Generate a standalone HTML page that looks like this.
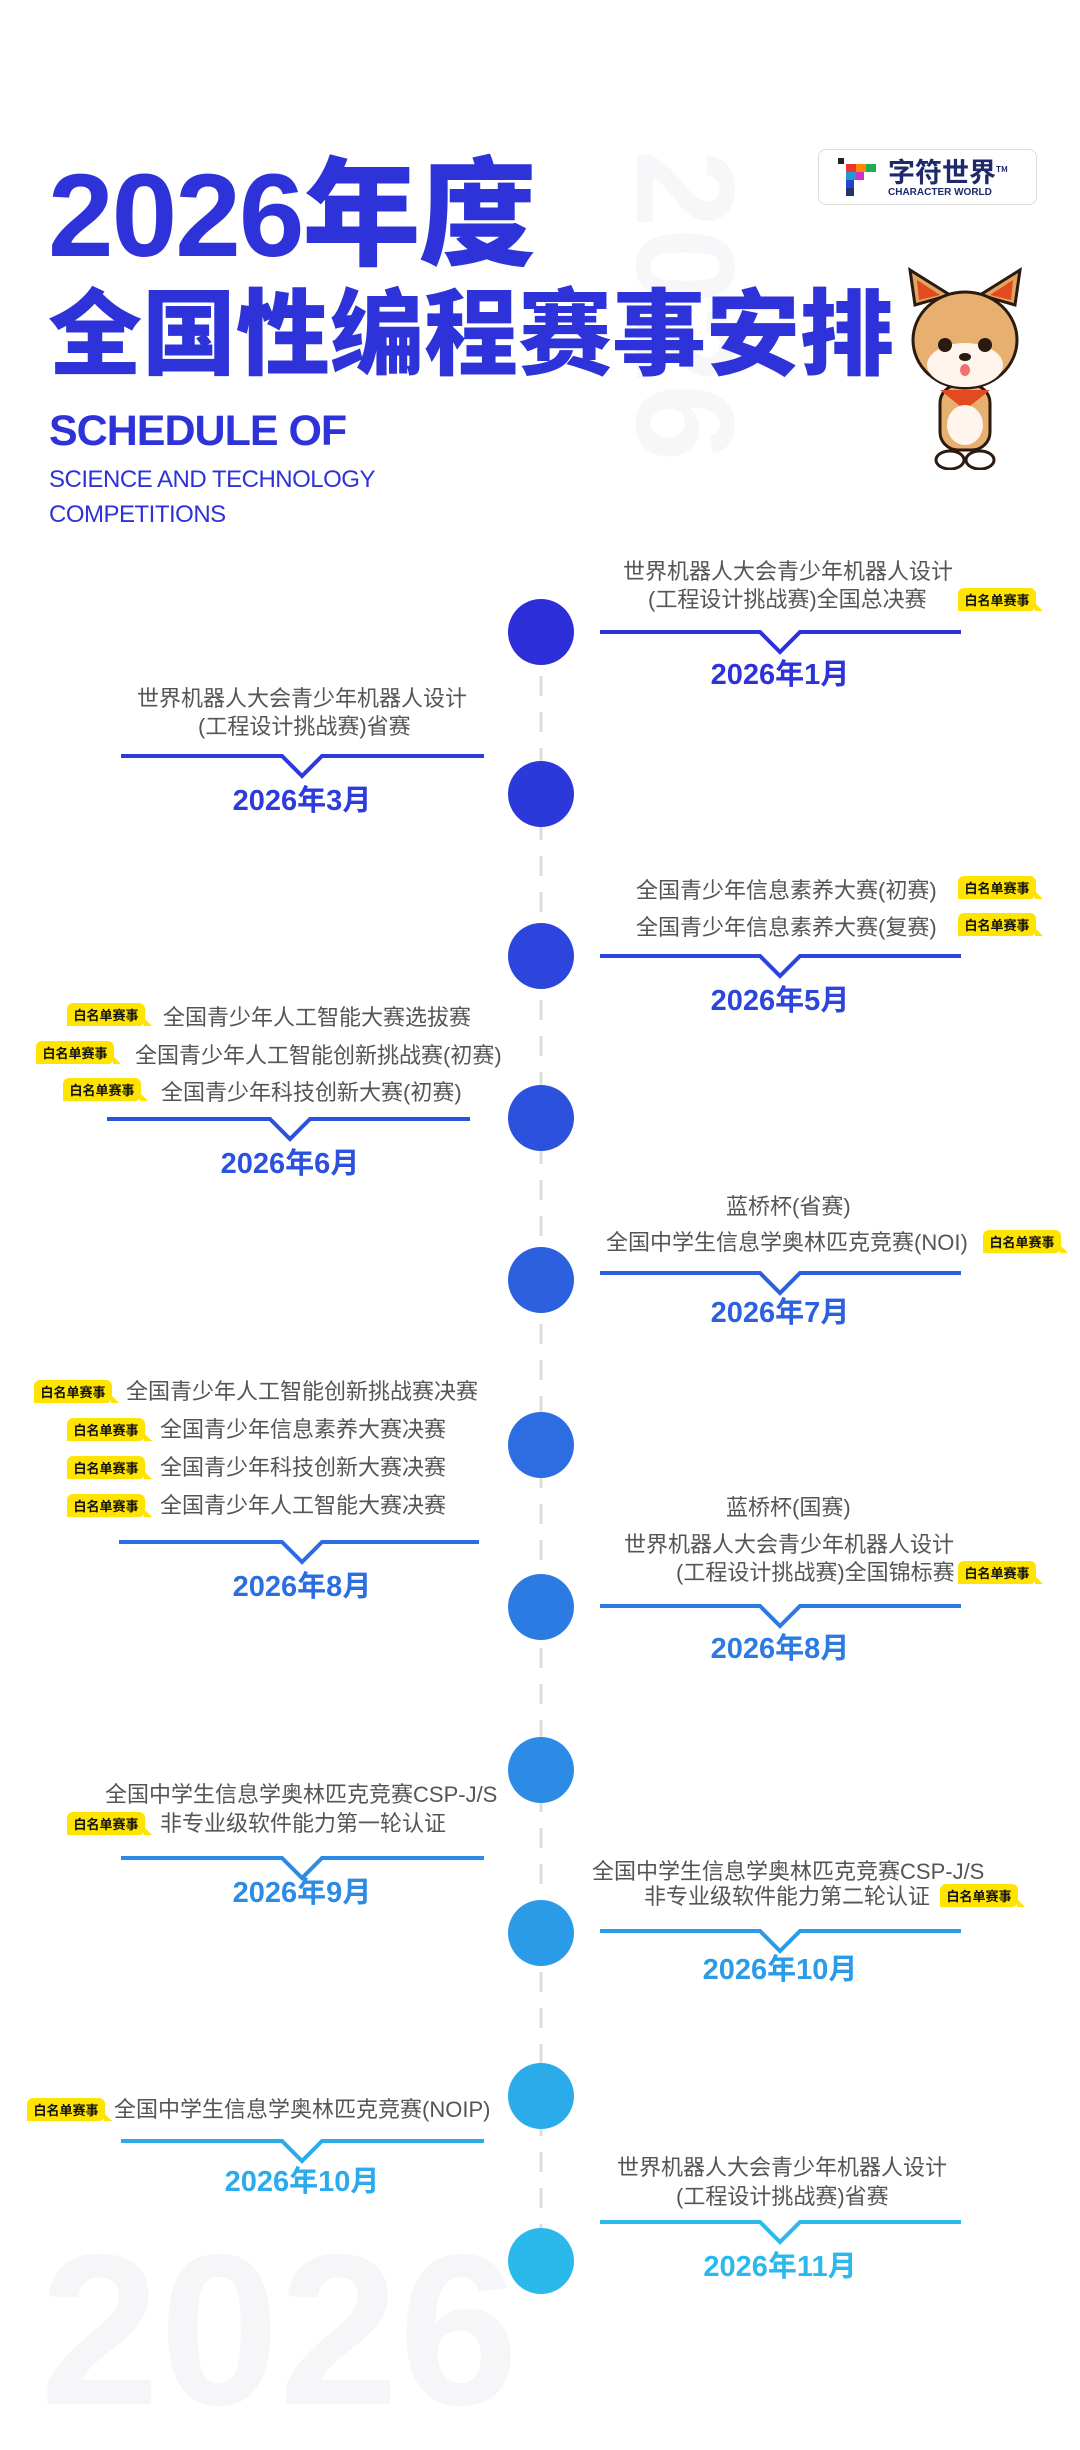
<!DOCTYPE html>
<html><head><meta charset="utf-8">
<style>
*{margin:0;padding:0;box-sizing:border-box}
body{width:1080px;height:2430px;background:#fff;position:relative;overflow:hidden;font-family:"Liberation Sans","Noto Sans CJK SC",sans-serif}
.a{position:absolute;white-space:nowrap}
.t{position:absolute;white-space:nowrap;font-size:22px;line-height:30px;height:30px;color:#555;}
.d{position:absolute;white-space:nowrap;font-size:29px;line-height:36px;font-weight:bold;text-align:center;width:300px}
.b{position:absolute;background:#ffe400;border-radius:6px 6px 6px 0;font-size:13px;font-weight:bold;color:#111;width:78px;height:23px;line-height:23px;text-align:center;font-family:"Noto Sans CJK SC",sans-serif}
.b:after{content:"";position:absolute;right:-7px;bottom:0;border-left:8px solid #ffe400;border-top:8px solid transparent}
</style></head><body>

<div class="a" style="left:650px;top:150px;font-size:140px;font-weight:bold;color:#f7f7f9;transform-origin:0 0;transform:translate(105px,0) rotate(90deg);line-height:140px">2026</div>
<div class="a" style="left:40px;top:2215px;font-size:215px;font-weight:bold;color:#f6f6f8;line-height:230px">2026</div>

<div class="a" style="left:48px;top:145px;font-size:118px;line-height:120px;font-weight:bold;color:#2d33d9;letter-spacing:-2px">2026<span style="font-family:'Noto Sans CJK SC';font-weight:900">年度</span></div>
<div class="a" style="left:48px;top:276px;font-size:94px;line-height:102px;font-weight:900;color:#2d33d9;font-family:'Noto Sans CJK SC',sans-serif">全国性编程赛事安排</div>
<div class="a" style="left:49px;top:408px;font-size:43px;line-height:46px;font-weight:bold;color:#2d33d9;letter-spacing:-1px">SCHEDULE OF</div>
<div class="a" style="left:49px;top:466px;font-size:24px;line-height:28px;color:#2d33d9;letter-spacing:-0.5px">SCIENCE AND TECHNOLOGY</div>
<div class="a" style="left:49px;top:501px;font-size:24px;line-height:28px;color:#2d33d9;letter-spacing:-0.5px">COMPETITIONS</div>

<!-- logo -->
<div class="a" style="left:818px;top:149px;width:219px;height:56px;border:1.5px solid #ddd;border-radius:8px;background:#fff"></div>
<svg class="a" style="left:838px;top:158px" width="40" height="40">
<rect x="0" y="0" width="6" height="6" fill="#222"/><rect x="8" y="6" width="10" height="8" fill="#e33"/><rect x="18" y="6" width="10" height="8" fill="#f80"/><rect x="28" y="6" width="10" height="8" fill="#2a5"/><rect x="8" y="14" width="10" height="8" fill="#29c"/><rect x="18" y="14" width="8" height="8" fill="#c3c"/><rect x="8" y="22" width="8" height="8" fill="#24c"/><rect x="8" y="30" width="8" height="8" fill="#236"/></svg>
<div class="a" style="left:888px;top:155px;font-size:27px;line-height:30px;font-weight:bold;color:#1e2a6b;font-family:'Noto Sans CJK SC',sans-serif">字符世界<sup style="font-size:8px">TM</sup></div>
<div class="a" style="left:888px;top:187px;font-size:10px;font-weight:bold;color:#1e2a6b">CHARACTER WORLD</div>

<!-- dog -->
<svg class="a" style="left:905px;top:265px" width="120" height="205" viewBox="0 0 120 205">
<g stroke="#2b1a10" stroke-width="3">
<path d="M10 40 L5 5 L45 30 Z" fill="#e0a560"/><path d="M110 40 L115 5 L75 30 Z" fill="#e0a560"/>
<path d="M14 35 L12 15 L35 30Z" fill="#e34a1f" stroke="none"/><path d="M106 35 L108 15 L85 30Z" fill="#e34a1f" stroke="none"/>
<rect x="35" y="120" width="50" height="65" rx="18" fill="#e8b070"/>
<ellipse cx="60" cy="75" rx="52" ry="48" fill="#e8b070"/>
<ellipse cx="60" cy="100" rx="38" ry="22" fill="#fff5ec" stroke="none"/>
<ellipse cx="45" cy="195" rx="14" ry="9" fill="#fff"/><ellipse cx="75" cy="195" rx="14" ry="9" fill="#fff"/>
</g>
<path d="M35 125 L85 125 L60 145Z" fill="#e34a1f"/>
<ellipse cx="60" cy="160" rx="18" ry="20" fill="#fff5ec"/>
<circle cx="40" cy="80" r="7" fill="#2b1a10"/><circle cx="80" cy="80" r="7" fill="#2b1a10"/>
<ellipse cx="60" cy="92" rx="6" ry="4" fill="#2b1a10"/>
<ellipse cx="60" cy="105" rx="5" ry="6" fill="#f07070"/>
</svg>

<svg class="a" style="left:0;top:0" width="1080" height="2430">
<line x1="541" y1="640" x2="541" y2="2250" stroke="#ddd" stroke-width="3" stroke-dasharray="20 16"/>
<circle cx="541" cy="632" r="33" fill="#2c2fd9"/>
<circle cx="541" cy="794" r="33" fill="#2c39da"/>
<circle cx="541" cy="956" r="33" fill="#2c45dc"/>
<circle cx="541" cy="1118" r="33" fill="#2c52dd"/>
<circle cx="541" cy="1280" r="33" fill="#2c60df"/>
<circle cx="541" cy="1445" r="33" fill="#2c6ee1"/>
<circle cx="541" cy="1607" r="33" fill="#2c7be3"/>
<circle cx="541" cy="1770" r="33" fill="#2c8be5"/>
<circle cx="541" cy="1933" r="33" fill="#2b9be8"/>
<circle cx="541" cy="2096" r="33" fill="#2babea"/>
<circle cx="541" cy="2261" r="33" fill="#2bb9ec"/>
<g fill="none" stroke-width="4">
<path d="M600 632 H760 L780 652 L800 632 H961" stroke="#2c33d9"/>
<path d="M121 756 H282 L302 776 L322 756 H484" stroke="#2c3bda"/>
<path d="M600 956 H760 L780 976 L800 956 H961" stroke="#2c45dc"/>
<path d="M107 1119 H270 L290 1139 L310 1119 H470" stroke="#2c52dd"/>
<path d="M600 1273 H760 L780 1293 L800 1273 H961" stroke="#2c60df"/>
<path d="M119 1542 H282 L302 1562 L322 1542 H479" stroke="#2c6ee1"/>
<path d="M600 1606 H760 L780 1626 L800 1606 H961" stroke="#2c7be3"/>
<path d="M121 1858 H282 L302 1878 L322 1858 H484" stroke="#2c8be5"/>
<path d="M600 1931 H760 L780 1951 L800 1931 H961" stroke="#2b9be8"/>
<path d="M121 2141 H282 L302 2161 L322 2141 H484" stroke="#2babea"/>
<path d="M600 2222 H760 L780 2242 L800 2222 H961" stroke="#2bb9ec"/>
</g>
</svg>

<!-- I1 -->
<div class="t" style="left:623px;top:557px">世界机器人大会青少年机器人设计</div>
<div class="t" style="left:648px;top:585px">(工程设计挑战赛)全国总决赛</div>
<div class="b" style="left:958px;top:588px">白名单赛事</div>
<div class="d" style="left:630px;top:657px;color:#2c33d9">2026年1月</div>
<!-- I2 -->
<div class="t" style="left:137px;top:684px">世界机器人大会青少年机器人设计</div>
<div class="t" style="left:198px;top:712px">(工程设计挑战赛)省赛</div>
<div class="d" style="left:152px;top:783px;color:#2c3bda">2026年3月</div>
<!-- I3 -->
<div class="t" style="left:636px;top:876px">全国青少年信息素养大赛(初赛)</div>
<div class="b" style="left:958px;top:876px">白名单赛事</div>
<div class="t" style="left:636px;top:913px">全国青少年信息素养大赛(复赛)</div>
<div class="b" style="left:958px;top:913px">白名单赛事</div>
<div class="d" style="left:630px;top:983px;color:#2c45dc">2026年5月</div>
<!-- I4 -->
<div class="b" style="left:67px;top:1003px">白名单赛事</div>
<div class="t" style="left:163px;top:1003px">全国青少年人工智能大赛选拔赛</div>
<div class="b" style="left:36px;top:1041px">白名单赛事</div>
<div class="t" style="left:135px;top:1041px">全国青少年人工智能创新挑战赛(初赛)</div>
<div class="b" style="left:63px;top:1078px">白名单赛事</div>
<div class="t" style="left:161px;top:1078px">全国青少年科技创新大赛(初赛)</div>
<div class="d" style="left:140px;top:1146px;color:#2c52dd">2026年6月</div>
<!-- I5 -->
<div class="t" style="left:726px;top:1192px">蓝桥杯(省赛)</div>
<div class="t" style="left:606px;top:1228px">全国中学生信息学奥林匹克竞赛(NOI)</div>
<div class="b" style="left:983px;top:1230px">白名单赛事</div>
<div class="d" style="left:630px;top:1295px;color:#2c60df">2026年7月</div>
<!-- I6 -->
<div class="b" style="left:34px;top:1380px">白名单赛事</div>
<div class="t" style="left:126px;top:1377px">全国青少年人工智能创新挑战赛决赛</div>
<div class="b" style="left:67px;top:1418px">白名单赛事</div>
<div class="t" style="left:160px;top:1415px">全国青少年信息素养大赛决赛</div>
<div class="b" style="left:67px;top:1456px">白名单赛事</div>
<div class="t" style="left:160px;top:1453px">全国青少年科技创新大赛决赛</div>
<div class="b" style="left:67px;top:1494px">白名单赛事</div>
<div class="t" style="left:160px;top:1491px">全国青少年人工智能大赛决赛</div>
<div class="d" style="left:152px;top:1569px;color:#2c6ee1">2026年8月</div>
<!-- I7 -->
<div class="t" style="left:726px;top:1493px">蓝桥杯(国赛)</div>
<div class="t" style="left:624px;top:1530px">世界机器人大会青少年机器人设计</div>
<div class="t" style="left:676px;top:1558px">(工程设计挑战赛)全国锦标赛</div>
<div class="b" style="left:958px;top:1561px">白名单赛事</div>
<div class="d" style="left:630px;top:1631px;color:#2c7be3">2026年8月</div>
<!-- I8 -->
<div class="t" style="left:105px;top:1780px">全国中学生信息学奥林匹克竞赛CSP-J/S</div>
<div class="b" style="left:67px;top:1812px">白名单赛事</div>
<div class="t" style="left:160px;top:1809px">非专业级软件能力第一轮认证</div>
<div class="d" style="left:152px;top:1875px;color:#2c8be5">2026年9月</div>
<!-- I9 -->
<div class="t" style="left:592px;top:1857px">全国中学生信息学奥林匹克竞赛CSP-J/S</div>
<div class="t" style="left:644px;top:1882px">非专业级软件能力第二轮认证</div>
<div class="b" style="left:940px;top:1884px">白名单赛事</div>
<div class="d" style="left:630px;top:1952px;color:#2b9be8">2026年10月</div>
<!-- I10 -->
<div class="b" style="left:27px;top:2098px">白名单赛事</div>
<div class="t" style="left:114px;top:2095px">全国中学生信息学奥林匹克竞赛(NOIP)</div>
<div class="d" style="left:152px;top:2164px;color:#2babea">2026年10月</div>
<!-- I11 -->
<div class="t" style="left:617px;top:2153px">世界机器人大会青少年机器人设计</div>
<div class="t" style="left:676px;top:2182px">(工程设计挑战赛)省赛</div>
<div class="d" style="left:630px;top:2249px;color:#2bb9ec">2026年11月</div>

</body></html>
